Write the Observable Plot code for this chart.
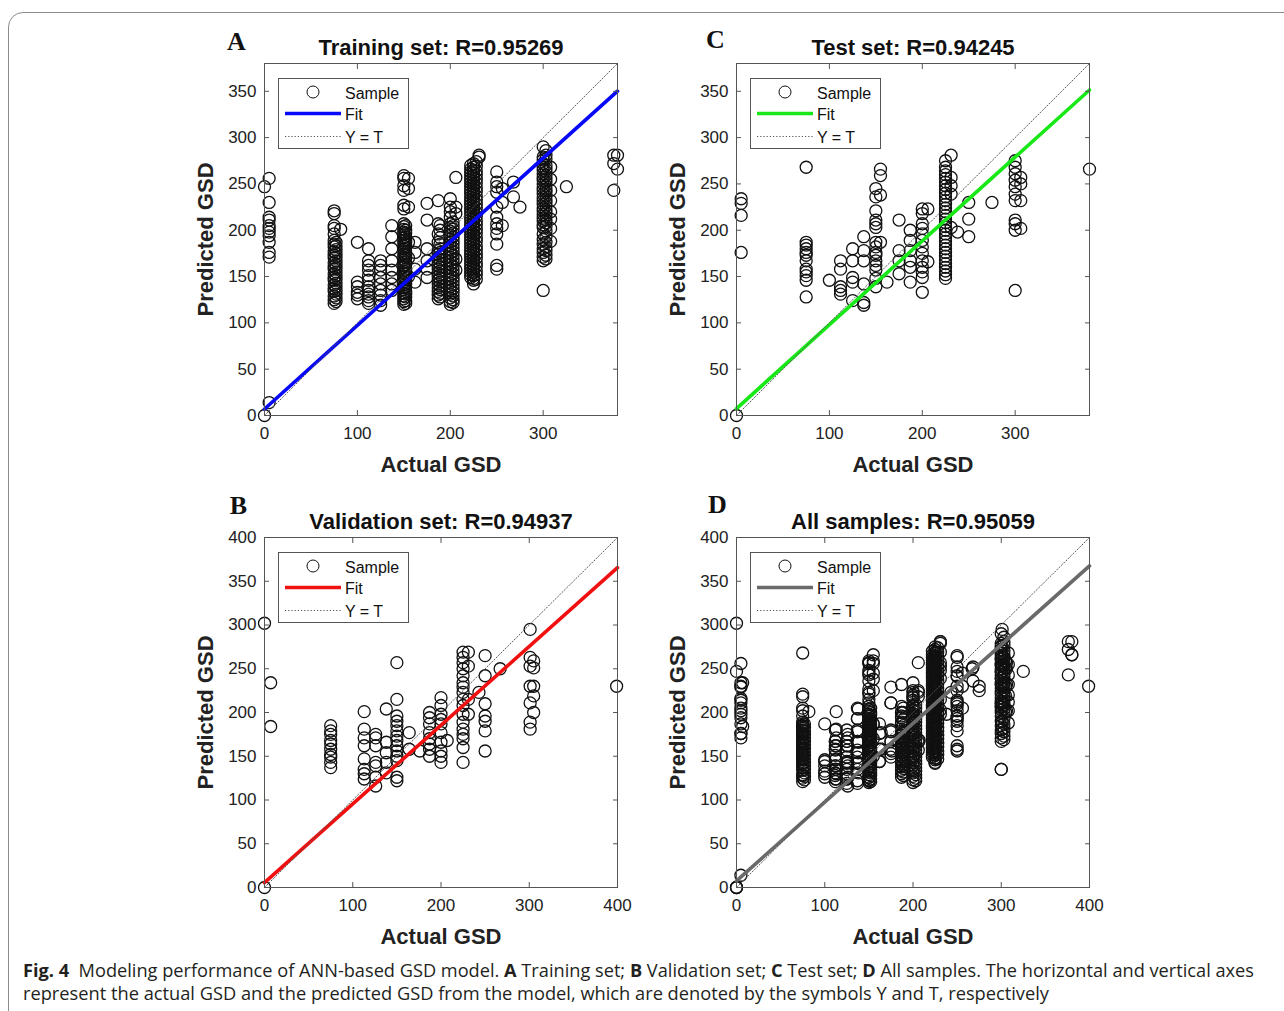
<!DOCTYPE html>
<html><head><meta charset="utf-8">
<script src="https://cdn.jsdelivr.net/npm/d3@7"></script>
<script src="https://cdn.jsdelivr.net/npm/@observablehq/plot@0.6"></script>
<style>
html,body{margin:0;padding:0;background:#fff;width:1284px;height:1011px;overflow:hidden;}
#root{position:relative;width:1284px;height:1011px;overflow:hidden;}
.border{position:absolute;left:8px;top:12px;width:1320px;height:1040px;border:1px solid #8c8c8c;border-radius:15px;box-sizing:border-box;}
.panel{position:absolute;}
.cap{position:absolute;left:23px;font-family:"Open Sans","Noto Sans",sans-serif;font-size:18.5px;line-height:23px;color:#231f20;white-space:nowrap;transform-origin:0 50%;}
.cap b{font-weight:700;}
</style></head>
<body><div id="root"><div class="border"></div></div>
<script>
// ---------- data ----------
const titles = ["Training set: R=0.95269", "Validation set: R=0.94937", "Test set: R=0.94245", "All samples: R=0.95059"];
const letters = ["A", "B", "C", "D"];
const ticksX380 = [0, 100, 200, 300];
const ticksY380 = [0, 50, 100, 150, 200, 250, 300, 350];
const ticksX400 = [0, 100, 200, 300, 400];
const ticksY400 = [0, 50, 100, 150, 200, 250, 300, 350, 400];
// fit lines: [slope, intercept]
const fitTrain = [0.903, 7];
const fitVal = [0.9, 5.5];
const fitTest = [0.905, 7.5];
const fitAll = [0.9, 7.5];
const legendLabels = ["Sample", "Fit", "Y = T"];

// columns: [actual GSD, [predicted GSD values]]
const trainCols = [
  [0, [0, 247]],
  [5, [256, 230, 214, 211, 205, 202, 198, 194, 187, 176, 171, 14]],
  [75, [221, 218, 205, 202, 196, 189, 185, 182, 177, 173, 170, 165, 161, 158, 153, 149, 146, 141, 137, 134, 129, 125, 121]],
  [77, [187, 183, 179, 175, 171, 167, 163, 159, 155, 151, 147, 143, 139, 135, 131, 127, 123]],
  [82, [201]],
  [100, [187, 144, 139, 133, 130, 126]],
  [112, [180, 167, 162, 157, 151, 146, 139, 135, 131, 128, 124, 121]],
  [125, [167, 162, 157, 149, 142, 135, 130, 124, 119]],
  [137, [205, 193, 180, 167, 157, 149, 142, 135]],
  [150, [259, 256, 248, 243, 227, 223, 207, 204, 201, 198, 196, 192, 189, 186, 183, 180, 178, 174, 171, 168, 165, 162, 160, 156, 153, 150, 147, 144, 141, 138, 136, 132, 129, 126, 123, 120]],
  [152, [205, 200, 197, 193, 190, 187, 184, 181, 176, 173, 170, 166, 163, 158, 155, 152, 148, 145, 142, 139, 134, 131, 128, 124, 121]],
  [155, [256, 245, 225, 187, 170, 150]],
  [162, [187, 176, 158, 144]],
  [175, [229, 211, 180, 167, 158, 149]],
  [187, [232, 207, 196, 187, 178, 174, 170, 166, 162, 158, 154, 150, 146, 142, 138, 134, 130, 126]],
  [189, [205, 200, 192, 185, 180, 176, 172, 168, 164, 160, 156, 152, 148, 144, 140, 136, 132, 128]],
  [200, [234, 225, 220, 214, 207, 203, 199, 195, 191, 187, 183, 179, 175, 171, 167, 163, 159, 155, 151, 147, 143, 139, 135, 131, 127, 123, 120]],
  [203, [209, 205, 201, 197, 193, 189, 185, 181, 177, 173, 169, 165, 161, 157, 153, 149, 145, 141, 137, 133, 129, 125, 122]],
  [206, [257, 225, 218, 169, 157]],
  [222, [270, 266, 263, 260, 257, 254, 251, 248, 245, 242, 239, 236, 233, 230, 227, 224, 221, 218, 215, 212, 209, 206, 203, 200, 197, 194, 191, 188, 185, 182, 179, 176, 173, 170, 167, 164, 161, 158, 155, 152, 149]],
  [225, [272, 268, 265, 262, 259, 256, 253, 250, 247, 244, 241, 238, 235, 232, 229, 226, 223, 220, 217, 214, 211, 208, 205, 202, 199, 196, 193, 190, 187, 184, 181, 178, 175, 172, 169, 166, 163, 160, 157, 154, 151, 148, 146, 142]],
  [228, [274, 269, 264, 260, 255, 251, 246, 242, 237, 233, 228, 224, 219, 215, 210, 206, 201, 197, 192, 188, 183, 179, 174, 170, 165, 161, 156, 152, 147]],
  [231, [281, 279]],
  [250, [263, 252, 247, 241, 225, 214, 207, 202, 196, 185, 162, 158]],
  [256, [245, 230, 205]],
  [268, [252, 236]],
  [275, [225]],
  [300, [290, 279, 276, 272, 268, 265, 261, 257, 254, 250, 246, 243, 239, 235, 232, 228, 224, 221, 217, 213, 210, 206, 203, 196, 190, 185, 180, 176, 171, 167, 135]],
  [303, [286, 281, 277, 270, 266, 263, 259, 255, 252, 248, 244, 241, 237, 233, 230, 226, 222, 219, 215, 211, 208, 204, 199, 193, 187, 182, 178, 173, 169]],
  [308, [268, 255, 243, 232, 220, 212, 202, 188]],
  [325, [247]],
  [376, [281, 272, 243]],
  [380, [281, 266]]
];
const valCols = [
  [0, [0, 302]],
  [7, [234, 184]],
  [75, [185, 179, 175, 168, 164, 158, 152, 149, 143, 137]],
  [113, [201, 181, 171, 162, 147, 135, 130, 124]],
  [126, [175, 171, 162, 143, 139, 126, 116]],
  [138, [204, 166, 154, 143, 131]],
  [150, [257, 215, 196, 190, 185, 179, 173, 168, 162, 156, 150, 145, 126, 122]],
  [164, [177, 158]],
  [176, [156]],
  [187, [200, 194, 187, 177, 170, 164, 158, 150]],
  [200, [217, 208, 198, 192, 187, 177, 166, 156, 150, 143]],
  [207, [168]],
  [225, [269, 263, 257, 250, 242, 234, 229, 223, 215, 208, 198, 189, 181, 175, 170, 160, 143]],
  [231, [269, 253, 215, 198]],
  [243, [223]],
  [250, [265, 242, 210, 196, 190, 179, 156]],
  [267, [250]],
  [301, [295, 263, 253, 230, 211, 189, 181]],
  [305, [259, 251, 230, 219, 200]],
  [399, [230]]
];
const testCols = [
  [0, [0]],
  [5, [234, 229, 216, 176]],
  [75, [268, 187, 184, 180, 176, 173, 167, 158, 155, 151, 146, 128]],
  [100, [146]],
  [112, [167, 158, 139, 135, 131]],
  [125, [180, 167, 149, 144, 124]],
  [137, [193, 178, 167, 142, 122, 119]],
  [150, [245, 236, 221, 211, 207, 203, 187, 182, 176, 173, 167, 162, 157, 148, 139]],
  [155, [266, 259, 238, 187]],
  [162, [144]],
  [175, [211, 178, 167, 153]],
  [187, [200, 189, 178, 167, 160, 144]],
  [200, [223, 218, 207, 202, 196, 189, 182, 175, 167, 160, 155, 149, 133]],
  [206, [223, 166]],
  [225, [275, 268, 264, 260, 256, 252, 248, 244, 240, 236, 232, 228, 224, 220, 216, 212, 208, 204, 200, 196, 192, 188, 184, 180, 176, 172, 168, 164, 160, 156, 152, 148]],
  [231, [281, 257, 248, 239, 203]],
  [238, [198]],
  [250, [230, 212, 193]],
  [275, [230]],
  [300, [275, 268, 261, 254, 247, 239, 232, 211, 207, 200, 135]],
  [306, [257, 250, 232, 202]],
  [380, [266]]
];
const captionLine1 = [["Fig. 4", true], ["\u00a0 Modeling performance of ANN-based GSD model. ", false], ["A", true], [" Training set; ", false], ["B", true], [" Validation set; ", false], ["C", true], [" Test set; ", false], ["D", true], [" All samples. The horizontal and vertical axes", false]];
const captionLine2 = "represent the actual GSD and the predicted GSD from the model, which are denoted by the symbols Y and T, respectively";

// ---------- drawing ----------
const toPoints = cols => cols.flatMap(([x, ys]) => ys.map(y => ({x, y})));
const ML = 90, MR = 25, MT = 55, MB = 70, FW = 353;
const FONT = "Liberation Sans, Arial, Helvetica, sans-serif";

const panels = [
  {pts: toPoints(trainCols), max: 380, fit: fitTrain, color: "#0808f8", i: 0, left: 264, top: 63, h: 352, tx: ticksX380, ty: ticksY380, ldx: -28, ldy: -22},
  {pts: toPoints(valCols), max: 400, fit: fitVal, color: "#f01010", i: 1, left: 264, top: 537, h: 350, tx: ticksX400, ty: ticksY400, ldx: -26, ldy: -32},
  {pts: toPoints(testCols), max: 380, fit: fitTest, color: "#18e818", i: 2, left: 736, top: 63, h: 352, tx: ticksX380, ty: ticksY380, ldx: -21, ldy: -24},
  {pts: toPoints(trainCols).concat(toPoints(valCols), toPoints(testCols)), max: 400, fit: fitAll, color: "#6a6a6a", i: 3, left: 736, top: 537, h: 350, tx: ticksX400, ty: ticksY400, ldx: -19, ldy: -33}
];

const root = document.getElementById("root");
const tickStyle = {tickSize: -5, tickFormat: () => "", label: null, stroke: "#555"};

for (const p of panels) {
  const fitLine = [0, p.max].map(x => ({x, y: p.fit[0] * x + p.fit[1]}));
  const idLine = [0, p.max].map(x => ({x, y: x}));
  const chart = Plot.plot({
    width: ML + FW + MR, height: MT + p.h + MB,
    marginLeft: ML, marginRight: MR, marginTop: MT, marginBottom: MB,
    style: {background: "transparent", fontFamily: FONT, overflow: "visible"},
    x: {domain: [0, p.max]},
    y: {domain: [0, p.max]},
    marks: [
      Plot.dot(p.pts, {x: "x", y: "y", r: 6, stroke: "#111", strokeWidth: 1.3, fill: "none"}),
      Plot.line(fitLine, {x: "x", y: "y", stroke: p.color, strokeWidth: 3.6}),
      Plot.line(idLine, {x: "x", y: "y", stroke: "#555", strokeWidth: 1, strokeDasharray: "1.2,2"}),
      Plot.frame({stroke: "#555"}),
      Plot.axisX(p.tx, {anchor: "bottom", ...tickStyle}),
      Plot.axisX(p.tx, {anchor: "top", ...tickStyle}),
      Plot.axisY(p.ty, {anchor: "left", ...tickStyle}),
      Plot.axisY(p.ty, {anchor: "right", ...tickStyle}),
      Plot.axisX(p.tx, {anchor: "bottom", tickSize: 0, tickPadding: 11, fontSize: 17, color: "#222", label: null}),
      Plot.axisY(p.ty, {anchor: "left", tickSize: 0, tickPadding: 8, fontSize: 17, color: "#222", label: null}),
      Plot.text([titles[p.i]], {frameAnchor: "top", dy: -16, lineAnchor: "middle", textAnchor: "middle", fontSize: 22, fontWeight: "bold", fill: "#111"}),
      Plot.text([letters[p.i]], {frameAnchor: "top-left", dx: p.ldx, dy: p.ldy, lineAnchor: "middle", textAnchor: "middle", fontSize: 26, fontWeight: "bold", fontFamily: "Liberation Serif, Times New Roman, serif", fill: "#111"}),
      Plot.text(["Actual GSD"], {frameAnchor: "bottom", dy: 49, lineAnchor: "middle", textAnchor: "middle", fontSize: 22, fontWeight: "bold", fill: "#222"}),
      Plot.text(["Predicted GSD"], {frameAnchor: "left", dx: -59, rotate: -90, lineAnchor: "middle", textAnchor: "middle", fontSize: 22, fontWeight: "bold", fill: "#222"})
    ]
  });
  // legend box
  const g = d3.select(chart).append("g").attr("transform", `translate(${ML},${MT})`)
    .attr("font-family", FONT).attr("font-size", 16).attr("fill", "#111").attr("text-anchor", "start");
  g.append("rect").attr("x", 14.5).attr("y", 15.5).attr("width", 130).attr("height", 70).attr("fill", "#fff").attr("stroke", "#555");
  g.append("circle").attr("cx", 49).attr("cy", 29).attr("r", 6).attr("fill", "none").attr("stroke", "#111");
  g.append("line").attr("x1", 21).attr("x2", 77).attr("y1", 50.5).attr("y2", 50.5).attr("stroke", p.color).attr("stroke-width", 3.6);
  g.append("line").attr("x1", 21).attr("x2", 77).attr("y1", 73.5).attr("y2", 73.5).attr("stroke", "#555").attr("stroke-dasharray", "1.2,2");
  [30, 51, 74].forEach((yy, k) => g.append("text").attr("x", 81).attr("y", yy).attr("dy", "0.35em").attr("text-anchor", "start").text(legendLabels[k]));

  const div = document.createElement("div");
  div.className = "panel";
  div.style.left = (p.left - ML) + "px";
  div.style.top = (p.top - MT) + "px";
  div.appendChild(chart);
  root.appendChild(div);
}

// caption
function addCaption(parts, top, targetW) {
  const d = document.createElement("div");
  d.className = "cap";
  d.style.top = top + "px";
  for (const [t, bold] of parts) {
    const s = document.createElement(bold ? "b" : "span");
    s.textContent = t;
    d.appendChild(s);
  }
  root.appendChild(d);
  const w = d.getBoundingClientRect().width;
  d.style.transform = `scaleX(${targetW / w})`;
}
addCaption(captionLine1, 958, 1231);
addCaption([[captionLine2, false]], 981, 1026);
</script></body></html>
